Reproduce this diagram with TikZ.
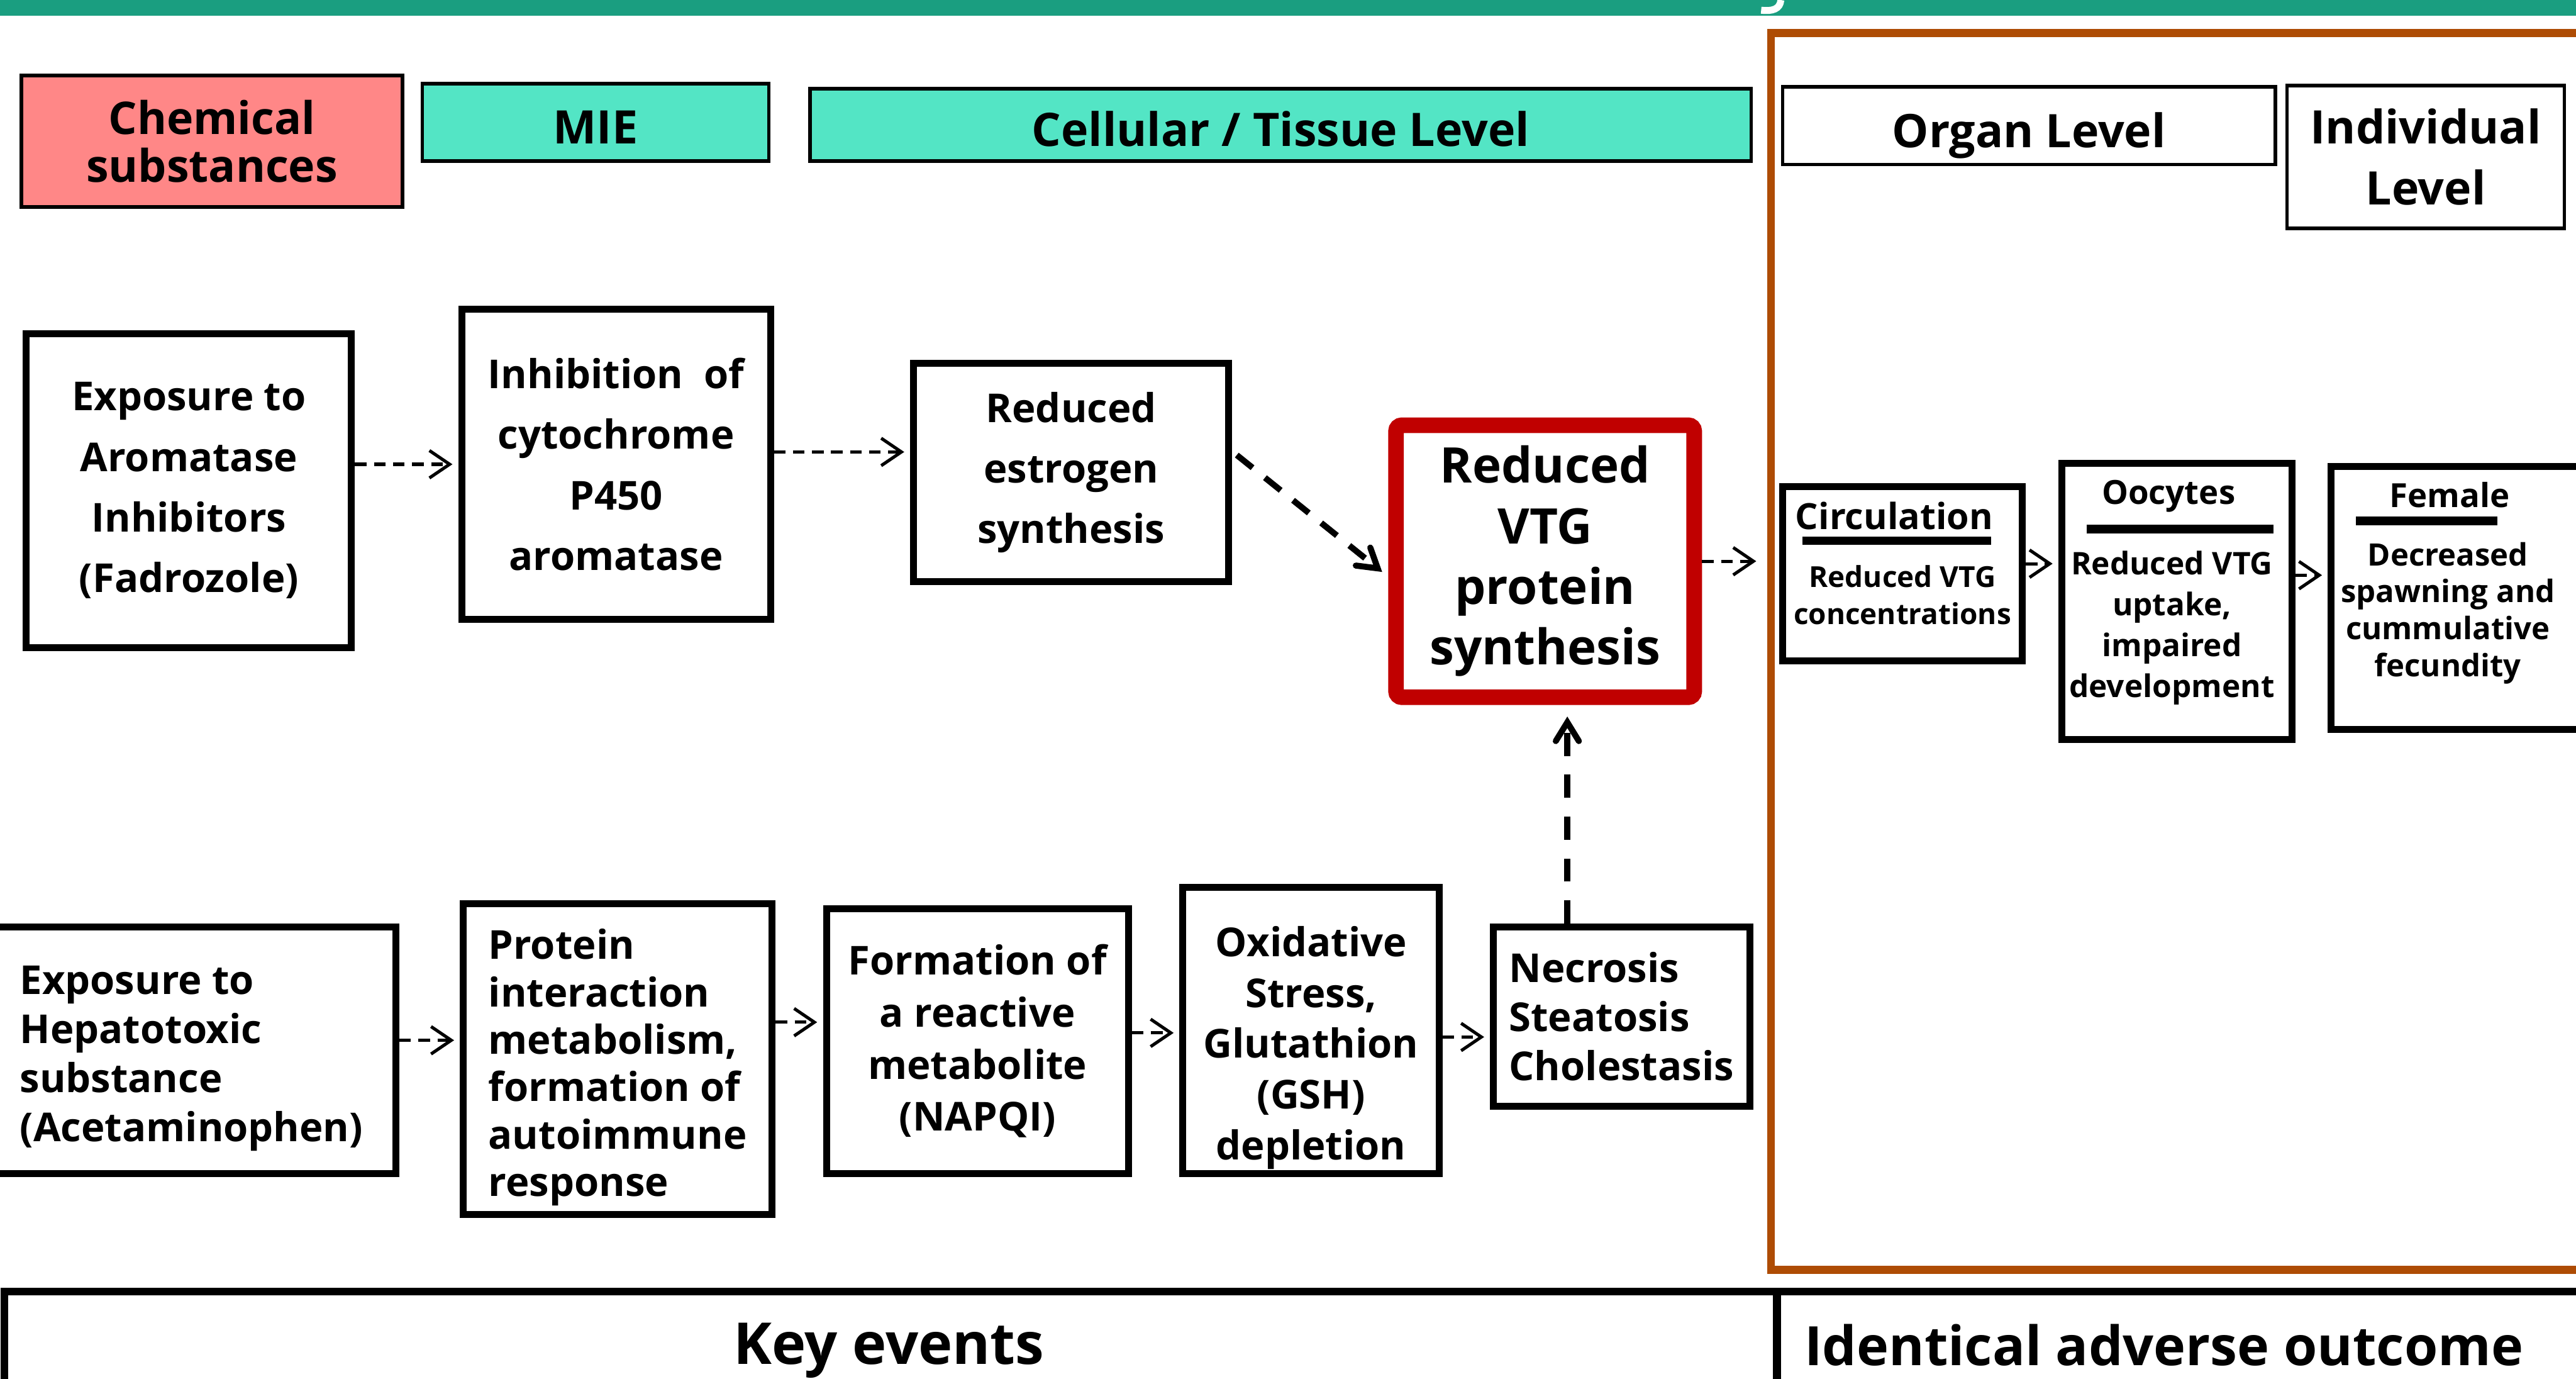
\documentclass[tikz,border=0pt]{standalone}
\usepackage{fontspec}
\setmainfont{Open Sans}
\usetikzlibrary{positioning,arrows.meta,calc}
\definecolor{TealBar}{RGB}{26,158,128}
\definecolor{TealHead}{RGB}{83,229,197}
\definecolor{SalmonHead}{RGB}{255,135,135}
\definecolor{VtgRed}{RGB}{192,0,0}
\definecolor{FrameBrown}{RGB}{174,76,4}

\begin{document}
\begin{tikzpicture}[
    x=0.02cm, y=-0.02cm,
    every node/.style={font=\bfseries, inner sep=2pt},
    head/.style={draw, line width=1.2pt, align=center, font=\bfseries\fontsize{16}{21}\selectfont},
    event/.style={draw, line width=2.4pt, fill=white, align=center, font=\bfseries\fontsize{13.8}{21}\selectfont},
    lowevent/.style={event, font=\bfseries\fontsize{13.8}{17}\selectfont},
    eventtext/.style={align=center, font=\bfseries\fontsize{13.8}{17}\selectfont},
    outcome/.style={draw, line width=2.4pt, fill=white},
    subhead/.style={font=\bfseries\fontsize{12}{14}\selectfont},
    subtext/.style={align=center},
    bar/.style={line width=3pt},
    flow/.style={-{Straight Barb[length=7pt,width=9.5pt]}, line width=1.1pt, dash pattern=on 4pt off 2.6pt, shorten >=2pt},
    flowthick/.style={-{Straight Barb[length=6.5pt,width=8pt,line cap=round]}, line width=2.1pt, dash pattern=on 7pt off 5.5pt},
]
\useasboundingbox (0,0) rectangle (1568,839);
\clip (0,0) rectangle (1568,839);

% title strip and AO frame
\fill[TealBar] (0,0) rectangle (1568,9.6);
\draw[white, line width=2.4pt] (1084,0) .. controls (1083.5,5.5) and (1079,7) .. (1072,6.2);
\node[draw=FrameBrown, line width=2.8pt, anchor=north west, inner sep=0pt,
      minimum width=10.6cm, minimum height=15.06cm] (aoFrame) at (1075.5,17.5) {};

% level headers
\node[head, fill=SalmonHead, minimum width=4.64cm, minimum height=1.6cm,
      font=\bfseries\fontsize{15.6}{16.5}\selectfont] (chem) at (129,86) {Chemical\\substances};
\node[head, fill=TealHead, minimum width=4.22cm, minimum height=0.94cm, text height=14.8pt] (mie) at (362.5,74.5) {MIE};
\node[head, fill=TealHead, minimum width=11.46cm, minimum height=0.88cm, text height=15pt] (cellLvl) at (779.5,76) {Cellular / Tissue Level};
\node[head, minimum width=6cm, minimum height=0.86cm, text height=19pt] (organLvl) at (1235,76.5) {Organ Level};
\node[head, minimum width=3.38cm, minimum height=1.74cm] (indivLvl) at (1476.5,95.5) {Individual\\Level};

% aromatase pathway
\node[event, minimum width=3.96cm, minimum height=3.82cm] (expAI) at (115,298.5) {Exposure to\\Aromatase\\Inhibitors\\(Fadrozole)};
\node[event, minimum width=3.76cm, minimum height=3.78cm] (inhib) at (375,282.5) {Inhibition~ of\\cytochrome\\P450\\aromatase};
\node[event, minimum width=3.84cm, minimum height=2.66cm] (estro) at (652,287.5) {Reduced\\estrogen\\synthesis};
\node[event, draw=VtgRed, line width=5.4pt, rounded corners=2pt, minimum width=3.63cm, minimum height=3.31cm,
      font=\bfseries\fontsize{17}{21}\selectfont] (vtg) at (940.5,341.5) {Reduced\\VTG\\protein\\synthesis};

% adverse outcome boxes
\node[outcome, minimum width=2.92cm, minimum height=2.12cm] (circ) at (1158,349) {};
\node[outcome, minimum width=2.8cm, minimum height=3.36cm] (ooc) at (1325,366) {};
\node[outcome, minimum width=3.18cm, minimum height=3.2cm] (fem) at (1498.5,364) {};
\node[subhead, font=\bfseries\fontsize{12.5}{14}\selectfont] (circHd) at (1153,314) {Circulation};
\node[subtext, font=\bfseries\fontsize{10}{13}\selectfont] (circTx) at (1158,362) {Reduced VTG\\concentrations};
\node[subhead, font=\bfseries\fontsize{11.5}{14}\selectfont] (oocHd) at (1320,302) {Oocytes};
\node[subtext, font=\bfseries\fontsize{10.8}{14.2}\selectfont] (oocTx) at (1322,382) {Reduced VTG\\uptake,\\impaired\\development};
\node[subhead, font=\bfseries\fontsize{11.5}{14}\selectfont] (femHd) at (1491,301) {Female};
\node[subtext, font=\bfseries\fontsize{10.7}{12.8}\selectfont] (femTx) at (1490,373) {Decreased\\spawning and\\cummulative\\fecundity};
\draw[bar] (1097,329) -- (1212,329);
\draw[bar] (1270,322) -- (1384,322);
\draw[bar] (1434,317) -- (1520,317);

% hepatotoxic pathway
\node[lowevent, minimum width=4.98cm, minimum height=3cm] (expH) at (116.5,639) {};
\node[eventtext, align=left] (expHtx) at ([yshift=-0.1cm]expH.center) {Exposure to\\Hepatotoxic\\substance\\(Acetaminophen)};
\node[lowevent, minimum width=3.76cm, minimum height=3.78cm] (prot) at (376,644.5) {};
\node[eventtext, align=left, font=\bfseries\fontsize{13.8}{16.4}\selectfont] (protTx) at ([yshift=-0.1cm]prot.center) {Protein\\interaction\\metabolism,\\formation of\\autoimmune\\response};
\node[lowevent, minimum width=3.68cm, minimum height=3.22cm,
      font=\bfseries\fontsize{13.8}{18}\selectfont] (form) at (595,633.5) {Formation of\\a reactive\\metabolite\\(NAPQI)};
\node[lowevent, minimum width=3.12cm, minimum height=3.48cm] (oxid) at (798,627) {};
\node[eventtext, font=\bfseries\fontsize{13.8}{17.6}\selectfont] (oxidTx) at ([yshift=-0.21cm]oxid.center) {Oxidative\\Stress,\\Glutathion\\(GSH)\\depletion};
\node[lowevent, align=left, minimum width=3.12cm, minimum height=2.18cm] (necr) at (987,618.5) {Necrosis\\Steatosis\\Cholestasis};

% footer
\node[draw, line width=2.6pt, anchor=north west, inner sep=0pt, minimum width=21.58cm, minimum height=1.6cm] (keyBox) at (0.5,783.5) {};
\node[draw, line width=2.6pt, anchor=north west, inner sep=0pt, minimum width=11cm, minimum height=1.6cm] (aoBox) at (1079.5,783.5) {};
\node[anchor=base, font=\bfseries\fontsize{20}{24}\selectfont] (keyLbl) at (541,830) {Key events};
\node[anchor=base west, inner sep=0pt, font=\bfseries\fontsize{18.8}{24}\selectfont] (aoLbl) at (1098,831) {Identical adverse outcome};

% arrows
\draw[flow] (expAI.east |- inhib.west) -- (inhib.west);
\draw[flow] ([yshift=0.15cm]inhib.east) -- ([yshift=0.15cm]inhib.east -| estro.west);
\draw[flowthick, shorten <=2pt, shorten >=2.7pt] ([yshift=0.256cm]estro.east) -- ([yshift=-0.19cm]vtg.west);
\draw[flow, shorten >=3.7pt] (vtg.east) -- (vtg.east -| aoFrame.west);
\draw[flow] ([yshift=0.12cm]circ.east) -- ([yshift=0.12cm]circ.east -| ooc.west);
\draw[flow] ([yshift=0.32cm]ooc.east) -- ([yshift=0.32cm]ooc.east -| fem.west);
\draw[flow] ([yshift=0.12cm]expH.east) -- ([yshift=0.12cm]expH.east -| prot.west);
\draw[flow] ([yshift=0.45cm]prot.east) -- ([yshift=0.45cm]prot.east -| form.west);
\draw[flow] ([yshift=0.1cm]form.east) -- ([yshift=0.1cm]form.east -| oxid.west);
\draw[flow] ([yshift=-0.08cm]oxid.east) -- ([yshift=-0.08cm]oxid.east -| necr.west);
\draw[flowthick, dash pattern=on 8pt off 6.5pt, shorten >=4pt] ([xshift=-0.66cm]necr.north) -- ([xshift=-0.66cm]necr.north |- vtg.south);
\end{tikzpicture}
\end{document}
